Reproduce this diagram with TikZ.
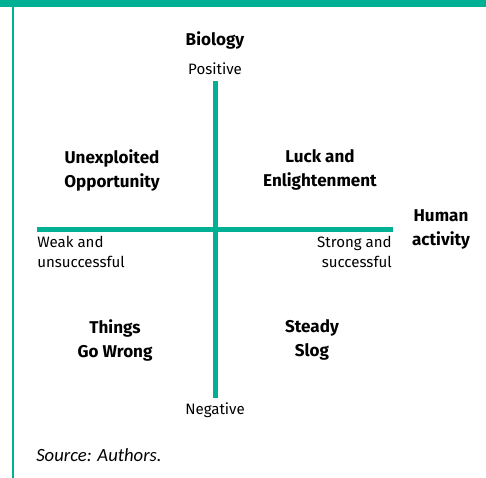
\documentclass[tikz,border=0pt]{standalone}
\usepackage{fontspec}
\setmainfont{Fira Sans}
\newfontfamily\sourcefont{Carlito}
\usepackage{tikz}
\usetikzlibrary{positioning}
\tikzstyle{pixels} = [x = .75pt, y = -.75pt]
\definecolor{axisColor}{RGB}{0,176,148}
\tikzstyle{axisLine} = [color=axisColor, line width=3.75pt]
\tikzstyle{frameLine} = [color=axisColor, line width=1.5pt]
\tikzstyle{quadrantText} = [font=\fontsize{12.8}{18}\selectfont\bfseries, align=center, inner sep=0pt]
\tikzstyle{axisTitle} = [font=\fontsize{12.8}{18}\selectfont\bfseries, align=center, inner sep=0pt]
\tikzstyle{endText} = [font=\fontsize{11.3}{15}\selectfont, inner sep=0pt]
\newcommand{\quadrant}[4]{\node [quadrantText] (#1) at (#2, #3) {#4};}

\begin{document}
\begin{tikzpicture}[pixels]
  \useasboundingbox (0,0) rectangle (486,478);
  % frame
  \fill [axisColor] (0,0) rectangle (486,7.5);
  \draw [frameLine] (13,7) -- (13,478);

  % axes
  \coordinate (top) at (215,81);
  \coordinate (bottom) at (215,398);
  \coordinate (left) at (37,229.5);
  \coordinate (right) at (393,229.5);
  \draw [axisLine] (top) -- (bottom);
  \draw [axisLine] (left) -- (right);

  % axis labels
  \node [axisTitle] (biology) at (215,40) {Biology};
  \node [endText] (positive) at (215,69) {Positive};
  \node [endText] (negative) at (215,410) {Negative};
  \node [axisTitle] (human) at (441,229) {Human\\activity};
  \node [endText, align=left, anchor=north west] (weak) at (37,236) {Weak and\\unsuccessful};
  \node [endText, align=right, anchor=north east] (strong) at (392,236) {Strong and\\successful};

  % quadrants
  \quadrant{unexploited}{112}{170}{Unexploited\\Opportunity}
  \quadrant{luck}{320}{170}{Luck and\\Enlightenment}
  \quadrant{wrong}{115}{340}{Things\\Go Wrong}
  \quadrant{slog}{312}{340}{Steady\\Slog}

  \node [font=\sourcefont\itshape\fontsize{14}{16}\selectfont, anchor=west, inner sep=0pt] (source) at (36,455) {Source: Authors.};
\end{tikzpicture}
\end{document}
